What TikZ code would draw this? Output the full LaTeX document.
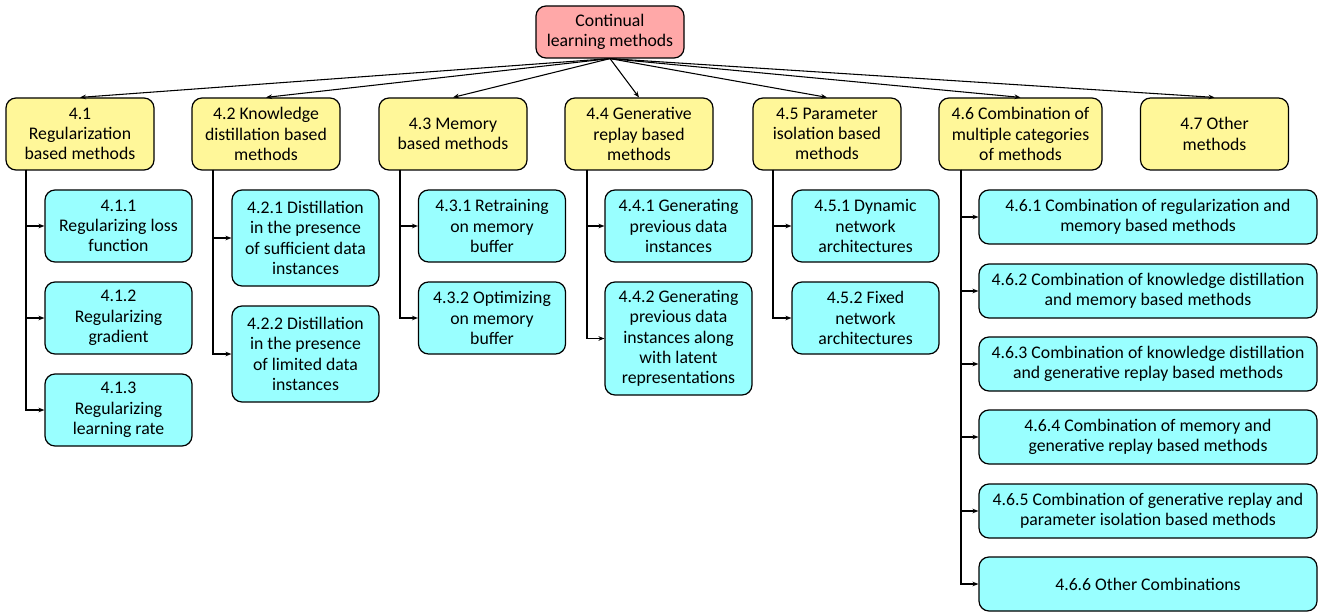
\documentclass[tikz,border=0pt]{standalone}
\usepackage{fontspec}
\setmainfont{Carlito}
\usetikzlibrary{arrows.meta}
\definecolor{rootc}{HTML}{FFA8A8}
\definecolor{yelc}{HTML}{FFF799}
\definecolor{cyac}{HTML}{99FFFF}
\tikzset{
  base/.style={draw=black, line width=0.9pt, rounded corners=7.5pt, align=center, inner sep=1pt,
    font=\fontsize{13.3}{15.2}\selectfont},
  rootbox/.style={base, fill=rootc, minimum width=111pt, minimum height=39pt},
  ybox/.style={base, fill=yelc, minimum width=111pt, minimum height=54pt},
  cbox/.style={base, fill=cyac, minimum width=110.25pt, minimum height=54pt},
  wbox/.style={base, fill=cyac, minimum width=253.5pt, minimum height=40.5pt},
  arr/.style={line width=0.8pt, -{Stealth[length=4.5pt,width=3.5pt]}},
}
\begin{document}
\begin{tikzpicture}[x=0.75pt,y=-0.75pt]
\useasboundingbox (0,0) rectangle (1325,613);
\node[rootbox] (root) at (610,32) {Continual\\learning methods};
\node[ybox] (a1) at (80,134) {4.1\\Regularization\\based methods};
\node[ybox] (a2) at (266,134) {4.2 Knowledge\\distillation based\\methods};
\node[ybox] (a3) at (453,134) {4.3 Memory\\based methods};
\node[ybox] (a4) at (639,134) {4.4 Generative\\replay based\\methods};
\node[ybox] (a5) at (827,134) {4.5 Parameter\\isolation based\\methods};
\node[ybox, minimum width=122.25pt] (a6) at (1020.5,134) {4.6 Combination of\\multiple categories\\of methods};
\node[ybox] (a7) at (1214.5,134) {4.7 Other\\methods};

\foreach \n in {1,...,7} \draw[arr] (root.south) -- (a\n.north);

\node[cbox] (b11) at (118.5,226) {4.1.1\\Regularizing loss\\function};
\node[cbox] (b12) at (118.5,318) {4.1.2\\Regularizing\\gradient};
\node[cbox] (b13) at (118.5,410) {4.1.3\\Regularizing\\learning rate};
\node[cbox, minimum height=72pt] (b21) at (305.5,238) {4.2.1 Distillation\\in the presence\\of sufficient data\\instances};
\node[cbox, minimum height=72pt] (b22) at (305.5,354) {4.2.2 Distillation\\in the presence\\of limited data\\instances};
\node[cbox] (b31) at (492,226) {4.3.1 Retraining\\on memory\\buffer};
\node[cbox] (b32) at (492,318) {4.3.2 Optimizing\\on memory\\buffer};
\node[cbox] (b41) at (678.5,226) {4.4.1 Generating\\previous data\\instances};
\node[cbox, minimum height=84.75pt] (b42) at (678.5,338.5) {4.4.2 Generating\\previous data\\instances along\\with latent\\representations};
\node[cbox] (b51) at (865.5,226) {4.5.1 Dynamic\\network\\architectures};
\node[cbox] (b52) at (865.5,318) {4.5.2 Fixed\\network\\architectures};
\node[wbox] (b61) at (1148,217) {4.6.1 Combination of regularization and\\memory based methods};
\node[wbox] (b62) at (1148,291) {4.6.2 Combination of knowledge distillation\\and memory based methods};
\node[wbox] (b63) at (1148,364) {4.6.3 Combination of knowledge distillation\\and generative replay based methods};
\node[wbox] (b64) at (1148,437) {4.6.4 Combination of memory and\\generative replay based methods};
\node[wbox] (b65) at (1148,511) {4.6.5 Combination of generative replay and\\parameter isolation based methods};
\node[wbox] (b66) at (1148,584) {4.6.6 Other Combinations};

\coordinate (t1) at (26,170);
\coordinate (t2) at (213,170);
\coordinate (t3) at (400,170);
\coordinate (t4) at (587,170);
\coordinate (t5) at (773,170);
\coordinate (t6) at (961,170);

\foreach \k in {1,2,3} \draw[arr] (t1) |- (b1\k.west);
\foreach \k in {1,2} \draw[arr] (t2) |- (b2\k.west);
\foreach \k in {1,2} \draw[arr] (t3) |- (b3\k.west);
\foreach \k in {1,2} \draw[arr] (t4) |- (b4\k.west);
\foreach \k in {1,2} \draw[arr] (t5) |- (b5\k.west);
\foreach \k in {1,...,6} \draw[arr] (t6) |- (b6\k.west);
\end{tikzpicture}
\end{document}
